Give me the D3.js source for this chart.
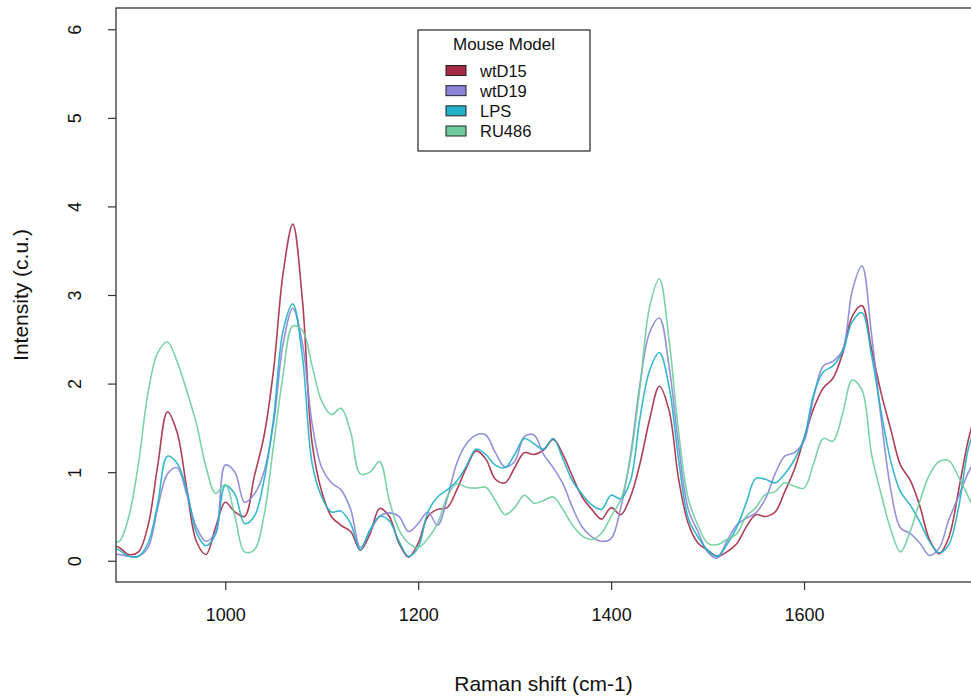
<!DOCTYPE html>
<html>
<head>
<meta charset="utf-8">
<script src="https://cdn.jsdelivr.net/npm/d3@7"></script>
<style>
  body { margin: 0; background: #fff; }
  text { font-family: "Liberation Sans", Arial, sans-serif; }
</style>
</head>
<body>
<div id="my_dataviz"></div>
<script>
// Raman shift grid (cm-1), one value every 10 units
var shifts = d3.range(880, 1781, 10);

var wtD15 = [0.18, 0.15, 0.07, 0.1, 0.4, 1.08, 1.68, 1.45, 0.82, 0.22,
  0.07, 0.38, 0.66, 0.55, 0.5, 0.95, 1.4, 2.15, 3.25, 3.8,
  2.94, 1.33, 0.78, 0.5, 0.4, 0.33, 0.12, 0.3, 0.59, 0.5,
  0.2, 0.04, 0.2, 0.5, 0.58, 0.6, 0.8, 1.05, 1.24, 1.15,
  0.92, 0.88, 1.05, 1.22, 1.2, 1.25, 1.37, 1.2, 0.95, 0.72,
  0.58, 0.47, 0.6, 0.52, 0.72, 1.1, 1.6, 1.97, 1.7, 0.92,
  0.42, 0.2, 0.12, 0.05, 0.1, 0.19, 0.38, 0.52, 0.5, 0.55,
  0.78, 1.03, 1.38, 1.72, 1.95, 2.06, 2.34, 2.76, 2.88, 2.39,
  1.89, 1.48, 1.08, 0.91, 0.62, 0.24, 0.08, 0.26, 0.78, 1.35, 1.75];

var wtD19 = [0.08, 0.07, 0.05, 0.05, 0.15, 0.6, 0.98, 1.05, 0.75, 0.38,
  0.22, 0.33, 1.08, 1.0, 0.66, 0.75, 1.0, 1.55, 2.45, 2.85,
  2.45, 1.55, 1.05, 0.88, 0.8, 0.58, 0.15, 0.33, 0.5, 0.54,
  0.5, 0.33, 0.42, 0.55, 0.4, 0.7, 1.1, 1.32, 1.42, 1.42,
  1.22, 1.06, 1.12, 1.4, 1.42, 1.2, 1.05, 0.87, 0.6, 0.38,
  0.27, 0.22, 0.25, 0.6, 1.18, 2.0, 2.58, 2.74, 2.2, 1.3,
  0.58, 0.33, 0.1, 0.03, 0.22, 0.4, 0.48, 0.54, 0.7, 0.98,
  1.18, 1.22, 1.35, 1.85, 2.2, 2.25, 2.38, 3.05, 3.33, 2.55,
  1.6, 0.8, 0.37, 0.31, 0.2, 0.06, 0.14, 0.46, 0.72, 0.99, 1.2];

var lps = [0.17, 0.12, 0.05, 0.05, 0.2, 0.65, 1.18, 1.1, 0.8, 0.32,
  0.17, 0.3, 0.85, 0.75, 0.42, 0.5, 0.9, 1.6, 2.6, 2.9,
  2.3, 1.1, 0.72, 0.55, 0.56, 0.42, 0.12, 0.35, 0.5, 0.45,
  0.22, 0.05, 0.15, 0.55, 0.72, 0.8, 0.9, 1.07, 1.26, 1.2,
  1.08, 1.05, 1.2, 1.38, 1.32, 1.26, 1.38, 1.15, 0.9, 0.75,
  0.63, 0.58, 0.74, 0.7, 0.9, 1.62, 2.15, 2.35, 1.97, 1.14,
  0.48, 0.27, 0.12, 0.05, 0.18, 0.37, 0.65, 0.93, 0.92, 0.88,
  0.98, 1.14, 1.38, 1.88, 2.13, 2.2, 2.36, 2.7, 2.8, 2.32,
  1.68, 1.12, 0.78, 0.63, 0.44, 0.22, 0.09, 0.18, 0.59, 1.25, 1.6];

var ru486 = [0.22, 0.22, 0.5, 1.1, 1.9, 2.35, 2.47, 2.25, 1.92, 1.55,
  1.06, 0.76, 0.86, 0.5, 0.1, 0.12, 0.5, 1.3, 2.1, 2.65,
  2.6, 2.2, 1.8, 1.65, 1.72, 1.45, 0.98, 1.0, 1.12, 0.68,
  0.35, 0.2, 0.15, 0.25, 0.42, 0.72, 0.87, 0.83, 0.82, 0.83,
  0.68, 0.52, 0.6, 0.74, 0.65, 0.68, 0.72, 0.58, 0.4, 0.28,
  0.24, 0.31, 0.5, 0.69, 1.15, 1.97, 2.87, 3.18, 2.5, 1.45,
  0.7, 0.4, 0.2, 0.18, 0.24, 0.3, 0.5, 0.6, 0.75, 0.78,
  0.88, 0.84, 0.82, 1.1, 1.38, 1.35, 1.66, 2.04, 1.93, 1.2,
  0.75, 0.35, 0.1, 0.33, 0.67, 0.97, 1.12, 1.13, 0.95, 0.73, 0.5];

var groups = ["wtD15", "wtD19", "LPS", "RU486"];
var colors = ["#a52a45", "#8a85d8", "#22b0c8", "#6fcd9d"];
var xTicks = [1000, 1200, 1400, 1600];
var yTicks = [0, 1, 2, 3, 4, 5, 6];

var series = [wtD15, wtD19, lps, ru486];

// plot region inside the svg
var width = 971, height = 698;
var plot = {left: 116, top: 8, right: 971, bottom: 582};

var svg = d3.select("#my_dataviz")
  .append("svg")
  .attr("width", width)
  .attr("height", height);

var x = d3.scaleLinear()
  .domain([886.7, 1773.1])
  .range([plot.left, plot.right]);

var y = d3.scaleLinear()
  .domain([-0.24, 6.24])
  .range([plot.bottom, plot.top]);

// clip the spectra to the plot box
svg.append("defs").append("clipPath")
  .attr("id", "clip")
  .append("rect")
  .attr("x", plot.left)
  .attr("y", plot.top)
  .attr("width", plot.right - plot.left)
  .attr("height", plot.bottom - plot.top);

var line = d3.line()
  .x(function(d, i) { return x(shifts[i]); })
  .y(function(d) { return y(d); })
  .curve(d3.curveCatmullRom.alpha(0.5));

var lines = svg.append("g").attr("clip-path", "url(#clip)");
series.forEach(function(s, k) {
  lines.append("path")
    .datum(s)
    .attr("fill", "none")
    .attr("stroke", colors[k])
    .attr("stroke-opacity", 0.9)
    .attr("stroke-width", 1.6)
    .attr("d", line);
});

// frame (right side runs off the page like the original)
svg.append("rect")
  .attr("x", plot.left)
  .attr("y", plot.top)
  .attr("width", plot.right - plot.left + 20)
  .attr("height", plot.bottom - plot.top)
  .attr("fill", "none")
  .attr("stroke", "#333")
  .attr("stroke-width", 1.3);

// X axis
var xAxis = svg.append("g")
  .attr("transform", "translate(0," + plot.bottom + ")")
  .call(d3.axisBottom(x).tickValues(xTicks).tickSize(8).tickPadding(18).tickFormat(d3.format("d")));
xAxis.select(".domain").remove();
xAxis.selectAll("line").attr("stroke", "#333").attr("stroke-width", 1.2);
xAxis.selectAll("text")
  .attr("font-size", 18)
  .attr("fill", "#111")
  .attr("font-family", "Liberation Sans, Arial, sans-serif");

// Y axis, labels turned like R does
var yAxis = svg.append("g")
  .attr("transform", "translate(" + plot.left + ",0)")
  .call(d3.axisLeft(y).tickValues(yTicks).tickSize(8).tickFormat(d3.format("d")));
yAxis.select(".domain").remove();
yAxis.selectAll("line").attr("stroke", "#333").attr("stroke-width", 1.2);
yAxis.selectAll("text")
  .attr("x", null)
  .attr("dy", null)
  .attr("text-anchor", "middle")
  .attr("transform", "translate(-41,0) rotate(-90)")
  .attr("font-size", 18)
  .attr("fill", "#111")
  .attr("font-family", "Liberation Sans, Arial, sans-serif")
  .attr("y", 0)
  .attr("dominant-baseline", "central");

// axis titles
svg.append("text")
  .attr("x", (plot.left + plot.right) / 2)
  .attr("y", 691)
  .attr("text-anchor", "middle")
  .attr("font-size", 21)
  .attr("fill", "#111")
  .text("Raman shift (cm-1)");

svg.append("text")
  .attr("transform", "translate(28," + (plot.top + plot.bottom) / 2 + ") rotate(-90)")
  .attr("text-anchor", "middle")
  .attr("font-size", 21)
  .attr("fill", "#111")
  .text("Intensity (c.u.)");

// legend
var legend = svg.append("g");
legend.append("rect")
  .attr("x", 418).attr("y", 30)
  .attr("width", 172).attr("height", 121)
  .attr("fill", "#fff")
  .attr("stroke", "#222")
  .attr("stroke-width", 1.2);
legend.append("text")
  .attr("x", 504).attr("y", 50)
  .attr("text-anchor", "middle")
  .attr("font-size", 17)
  .attr("fill", "#111")
  .text("Mouse Model");

var rowY = d3.scaleLinear().domain([0, 3]).range([70.5, 131]);
groups.forEach(function(g, k) {
  legend.append("rect")
    .attr("x", 446).attr("y", rowY(k) - 5)
    .attr("width", 20).attr("height", 10)
    .attr("fill", colors[k])
    .attr("stroke", "#222")
    .attr("stroke-width", 1);
  legend.append("text")
    .attr("x", 480).attr("y", rowY(k))
    .attr("dominant-baseline", "central")
    .attr("font-size", 16.5)
    .attr("fill", "#111")
    .text(g);
});
</script>
</body>
</html>
